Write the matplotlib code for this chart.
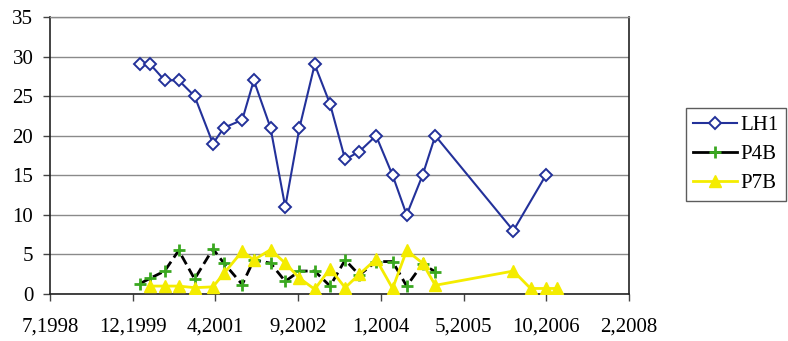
import numpy as np
import pandas as pd
import matplotlib
matplotlib.use('Agg')
import matplotlib.pyplot as plt
import matplotlib.dates as mdates

plt.rcParams['font.family'] = ['Liberation Serif', 'DejaVu Serif']

# sampling dates shared by the three wells
sample_dates = ['2000-01-09', '2000-03-13', '2000-06-07', '2000-08-31', '2000-12-05',
                '2001-03-26', '2001-05-31', '2001-09-19', '2001-11-28', '2002-03-09',
                '2002-06-06', '2002-08-31', '2002-12-01', '2003-03-04', '2003-06-03',
                '2003-08-28', '2003-12-07', '2004-03-16', '2004-06-09', '2004-09-13',
                '2004-11-29']
late_dates = ['2006-03-16', '2006-09-28']

lh1_dates = sample_dates + late_dates
lh1 = [29, 29, 27, 27, 25, 19, 21, 22, 27, 21, 11, 21, 29, 24, 17, 18, 20, 15, 10, 15,
       20, 8, 15]

p4b_dates = sample_dates
p4b = [1.3, 2.0, 2.9, 5.5, 1.9, 5.7, 3.9, 1.2, 4.3, 3.9, 1.6, 2.9, 2.9, 1.0, 4.3, 2.4,
       4.1, 4.1, 1.0, 3.8, 2.8]

p7b_dates = sample_dates[1:] + ['2006-03-16', '2006-06-28', '2006-09-28', '2006-12-03']
p7b = [1.0, 1.0, 1.0, 0.8, 0.9, 2.6, 5.4, 4.3, 5.6, 3.9, 2.0, 0.6, 3.2, 0.8, 2.5, 4.4,
       0.7, 5.5, 3.9, 1.1, 2.9, 0.7, 0.7, 0.7]

tick_labels = ['7,1998', '12,1999', '4,2001', '9,2002', '1,2004', '5,2005', '10,2006',
               '2,2008']

fig = plt.figure(figsize=(7.88, 3.41), dpi=100)
ax = fig.add_axes([50/788, 47/341, 579/788, 277/341])

ax.plot(pd.to_datetime(lh1_dates), lh1, color='#23319a', lw=1.5, marker='D', ms=6.2,
        mfc='white', mec='#23319a', mew=1.4, label='LH1', zorder=3)
ax.plot(pd.to_datetime(p4b_dates), p4b, color='black', lw=2, ls=(0, (3.5, 1.8)),
        marker='+', ms=9, mec='#3aa820', mew=2, label='P4B', zorder=4)
ax.plot(pd.to_datetime(p7b_dates), p7b, color='#f4ec00', lw=2, marker='^', ms=8.5,
        mfc='#f4ec00', mec='#f4ec00', label='P7B', zorder=5)

# date axis, major unit 500 days
t0 = mdates.date2num(pd.Timestamp('1998-07-15'))
ticks = t0 + 500 * np.arange(len(tick_labels))
ax.set_xticks(ticks)
ax.set_xticklabels(tick_labels)
ax.set_xlim(ticks[0], ticks[-1])

ax.set_ylim(0, 35)
ax.set_yticks(range(0, 36, 5))
ax.yaxis.grid(True, color='#8a8a8a', lw=1)
ax.set_axisbelow(True)

ax.tick_params(axis='both', labelsize=15, direction='out', length=5, width=1,
               color='#444444')
ax.tick_params(axis='x', pad=12)
ax.tick_params(axis='y', pad=7)

for side in ['left', 'bottom', 'right']:
    ax.spines[side].set_color('#222222')
    ax.spines[side].set_linewidth(1.2)
ax.spines['top'].set_color('#8a8a8a')
ax.spines['top'].set_linewidth(1)

leg = fig.legend(loc='center left', bbox_to_anchor=(686/788, (341 - 154.5)/341),
                 fontsize=15, handlelength=2.1, handletextpad=0.15, borderpad=0.35,
                 labelspacing=0.45, fancybox=False, edgecolor='#333333',
                 borderaxespad=0)
leg.get_frame().set_linewidth(1)
# the key shows P4B with a solid line
leg.get_lines()[1].set_linestyle('-')

fig.savefig('out.png', dpi=100)
